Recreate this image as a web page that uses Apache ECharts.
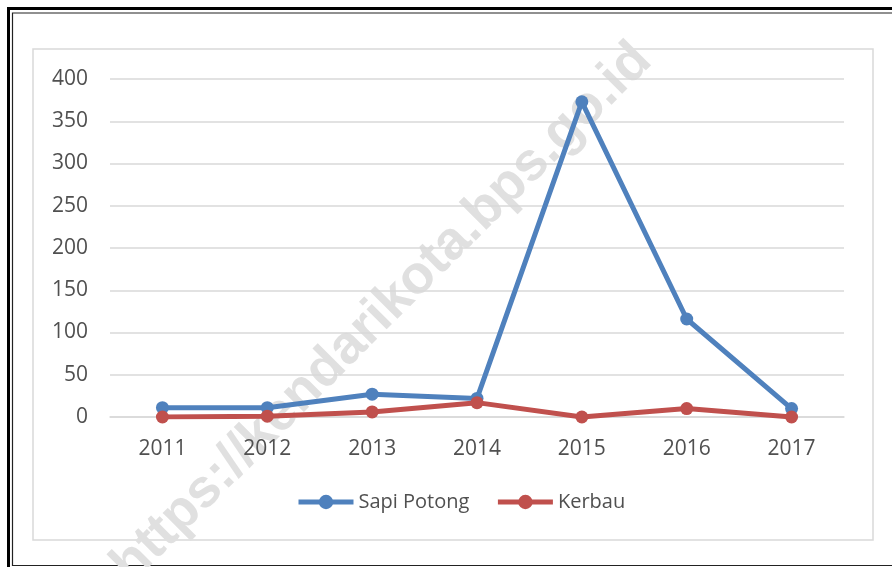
<!DOCTYPE html>
<html>
<head>
<meta charset="utf-8">
<script src="https://cdn.jsdelivr.net/npm/echarts@6/dist/echarts.min.js"></script>
<style>
  html, body { margin: 0; padding: 0; background: #fff; }
  #chart { width: 892px; height: 567px; }
</style>
</head>
<body>
<div id="chart"></div>
<script>
// data
var years = ["2011", "2012", "2013", "2014", "2015", "2016", "2017"];
var sapiPotong = [11, 11, 27, 22, 373, 116, 10];
var kerbau = [0, 1, 6, 17, 0, 10, 0];

var chart = echarts.init(document.getElementById("chart"));
var labelFont = { color: "#505050", fontSize: 21, fontFamily: "Open Sans" };

var option = {
  backgroundColor: "#fff",
  animation: false,
  grid: { left: 110, right: 48, top: 79, bottom: 150 },
  graphic: [
    // outer double frame (right side runs off the page)
    { type: "rect", z: 0, silent: true, shape: { x: 8.5, y: 8.5, width: 1000, height: 1000 },
      style: { fill: null, stroke: "#000", lineWidth: 3 } },
    { type: "rect", z: 0, silent: true, shape: { x: 12.5, y: 13, width: 1000, height: 552.5 },
      style: { fill: null, stroke: "#222", lineWidth: 1.2 } },
    // chart area frame
    { type: "rect", z: 0, silent: true, shape: { x: 33, y: 49, width: 840, height: 491 },
      style: { fill: null, stroke: "#d9d9d9", lineWidth: 1.5 } },
    // watermark
    { type: "text", z: 0, silent: true, x: 382, y: 313, rotation: Math.PI / 4,
      style: { text: "https://kendarikota.bps.go.id", fill: "#e0e0e0",
        font: "bold 54px 'Liberation Sans'", align: "center", verticalAlign: "middle" } }
  ],
  legend: {
    data: ["Sapi Potong", "Kerbau"],
    left: 291,
    top: 487,
    itemWidth: 55,
    itemHeight: 18,
    itemGap: 26,
    lineStyle: { width: 5 },
    textStyle: { color: "#505050", fontSize: 20, fontFamily: "Open Sans" }
  },
  xAxis: {
    type: "category",
    data: years,
    axisLine: { lineStyle: { color: "#d9d9d9", width: 1.5 } },
    axisTick: { show: false },
    axisLabel: Object.assign({ margin: 22 }, labelFont)
  },
  yAxis: {
    type: "value",
    min: 0,
    max: 400,
    interval: 50,
    axisLine: { show: false },
    axisTick: { show: false },
    axisLabel: Object.assign({ margin: 22 }, labelFont),
    splitLine: { lineStyle: { color: "#d9d9d9", width: 1.5 } }
  },
  series: [
    {
      name: "Sapi Potong",
      type: "line",
      data: sapiPotong,
      symbol: "circle",
      symbolSize: 13,
      color: "#4f81bd",
      lineStyle: { width: 5, color: "#4f81bd" },
      itemStyle: { color: "#4f81bd" }
    },
    {
      name: "Kerbau",
      type: "line",
      data: kerbau,
      symbol: "circle",
      symbolSize: 13,
      color: "#c0504d",
      lineStyle: { width: 5, color: "#c0504d" },
      itemStyle: { color: "#c0504d" }
    }
  ]
};

chart.setOption(option);
</script>
</body>
</html>
